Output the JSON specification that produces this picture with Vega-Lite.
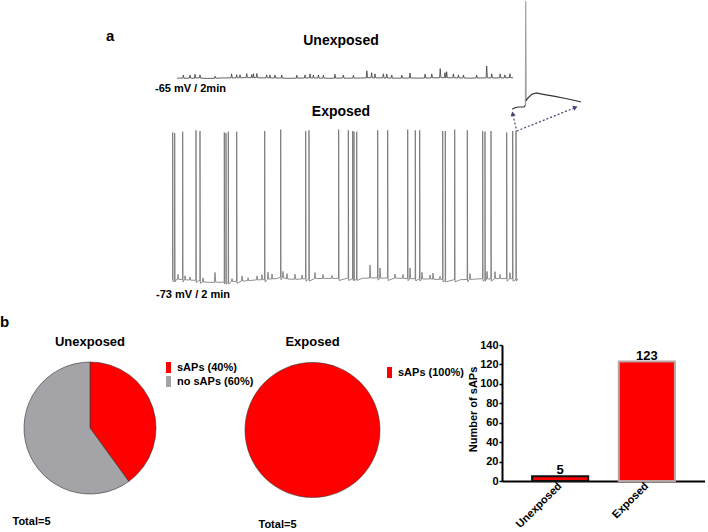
{
  "$schema": "https://vega.github.io/schema/vega-lite/v6.json",
  "padding": 0,
  "background": "white",
  "config": {
    "view": {"stroke": null},
    "font": "Liberation Sans",
    "title": {"fontWeight": "bold", "color": "black"},
    "axis": {"labelColor": "black", "titleColor": "black"}
  },
  "datasets": {
    "unexp": [
      {"t":0,"v":-65.1},
      {"t":2.05,"v":-65.1},{"t":2.25,"v":-63.0},{"t":2.5,"v":-65.2},
      {"t":4.44,"v":-65.0},{"t":4.64,"v":-62.9},{"t":4.89,"v":-65.1},
      {"t":6.23,"v":-65.2},{"t":6.43,"v":-62.4},{"t":6.68,"v":-65.0},
      {"t":8.01,"v":-64.9},{"t":8.21,"v":-62.8},{"t":8.46,"v":-65.1},
      {"t":11,"v":-65.3},
      {"t":13.37,"v":-65.2},{"t":13.57,"v":-63.8},{"t":13.82,"v":-65.1},
      {"t":16,"v":-65.0},
      {"t":19.3,"v":-64.9},{"t":19.5,"v":-62.1},{"t":19.75,"v":-65.0},
      {"t":21.1,"v":-64.8},{"t":21.3,"v":-62.7},{"t":21.55,"v":-64.9},
      {"t":22.3,"v":-64.8},{"t":22.5,"v":-62.7},{"t":22.75,"v":-64.9},
      {"t":24.7,"v":-64.7},{"t":24.9,"v":-61.9},{"t":25.15,"v":-64.8},
      {"t":26.5,"v":-64.7},{"t":26.7,"v":-62.6},{"t":26.95,"v":-64.8},
      {"t":27.15,"v":-64.8},{"t":27.3,"v":-62.0},{"t":27.55,"v":-64.8},
      {"t":28.3,"v":-64.7},{"t":28.5,"v":-61.9},{"t":28.75,"v":-64.8},
      {"t":30.5,"v":-64.9},
      {"t":31.8,"v":-64.9},{"t":32.0,"v":-62.8},{"t":32.25,"v":-64.9},
      {"t":33.0,"v":-64.9},{"t":33.2,"v":-62.8},{"t":33.45,"v":-65.0},
      {"t":34.8,"v":-65.0},{"t":35.0,"v":-62.9},{"t":35.25,"v":-65.0},
      {"t":37.2,"v":-65.0},{"t":37.4,"v":-62.9},{"t":37.65,"v":-65.1},
      {"t":40,"v":-65.2},
      {"t":42.6,"v":-65.1},{"t":42.8,"v":-63.0},{"t":43.05,"v":-65.1},
      {"t":45.5,"v":-65.0},{"t":45.7,"v":-62.9},{"t":45.95,"v":-65.0},
      {"t":47.3,"v":-64.9},{"t":47.5,"v":-62.1},{"t":47.75,"v":-65.0},
      {"t":48.5,"v":-65.0},{"t":48.7,"v":-62.9},{"t":48.95,"v":-65.0},
      {"t":50.3,"v":-65.0},{"t":50.5,"v":-62.9},{"t":50.75,"v":-65.1},
      {"t":52.1,"v":-65.1},{"t":52.3,"v":-63.0},{"t":52.55,"v":-65.1},
      {"t":54.5,"v":-65.2},
      {"t":56.2,"v":-65.1},{"t":56.4,"v":-62.3},{"t":56.65,"v":-65.1},
      {"t":59.2,"v":-65.0},{"t":59.4,"v":-62.9},{"t":59.65,"v":-65.1},
      {"t":62.8,"v":-65.1},{"t":63.0,"v":-63.0},{"t":63.25,"v":-65.1},
      {"t":65.5,"v":-65.0},
      {"t":67.6,"v":-64.9},{"t":67.8,"v":-60.0},{"t":68.05,"v":-64.9},
      {"t":69.3,"v":-64.8},{"t":69.5,"v":-61.3},{"t":69.75,"v":-64.9},
      {"t":70.5,"v":-64.9},{"t":70.7,"v":-62.1},{"t":70.95,"v":-64.9},
      {"t":73.5,"v":-64.9},{"t":73.7,"v":-62.1},{"t":73.95,"v":-65.0},
      {"t":74.7,"v":-65.0},{"t":74.9,"v":-62.2},{"t":75.15,"v":-65.0},
      {"t":76.5,"v":-65.0},{"t":76.7,"v":-62.9},{"t":76.95,"v":-65.1},
      {"t":78.5,"v":-65.1},
      {"t":80.1,"v":-65.1},{"t":80.3,"v":-63.0},{"t":80.55,"v":-65.1},
      {"t":83.0,"v":-65.0},{"t":83.2,"v":-61.5},{"t":83.45,"v":-65.0},
      {"t":86,"v":-65.1},
      {"t":88.4,"v":-65.0},{"t":88.6,"v":-62.2},{"t":88.85,"v":-65.0},
      {"t":90.8,"v":-64.9},{"t":91.0,"v":-62.1},{"t":91.25,"v":-64.9},
      {"t":93.8,"v":-64.8},{"t":94.0,"v":-58.5},{"t":94.25,"v":-64.7},
      {"t":95.5,"v":-64.8},{"t":95.7,"v":-61.3},{"t":95.95,"v":-64.8},
      {"t":96.1,"v":-64.8},{"t":96.3,"v":-60.6},{"t":96.55,"v":-64.8},
      {"t":98.5,"v":-64.9},{"t":98.7,"v":-62.1},{"t":98.95,"v":-64.9},
      {"t":100.3,"v":-64.9},{"t":100.5,"v":-62.8},{"t":100.75,"v":-65.0},
      {"t":102.1,"v":-65.0},{"t":102.3,"v":-62.9},{"t":102.55,"v":-65.0},
      {"t":104.5,"v":-65.1},
      {"t":106.8,"v":-65.0},{"t":107.0,"v":-62.9},{"t":107.25,"v":-65.0},
      {"t":110.4,"v":-64.9},{"t":110.6,"v":-56.6},{"t":110.85,"v":-64.9},
      {"t":112.2,"v":-64.9},{"t":112.4,"v":-62.1},{"t":112.65,"v":-65.0},
      {"t":115.2,"v":-64.9},{"t":115.4,"v":-62.1},{"t":115.65,"v":-64.9},
      {"t":116.9,"v":-64.9},{"t":117.1,"v":-62.8},{"t":117.35,"v":-64.9},
      {"t":118.7,"v":-64.8},{"t":118.9,"v":-62.0},{"t":119.15,"v":-64.8},
      {"t":120,"v":-64.8}
    ],
    "exp": [
      {"t":0,"v":-73.2},
      {"t":0.19,"v":-73.2},{"t":0.24,"v":29},{"t":0.36,"v":-75},
      {"t":0.89,"v":-74},{"t":0.94,"v":28.5},{"t":1.06,"v":-75},
      {"t":1.5,"v":-73.4},
      {"t":1.9,"v":-73.2},{"t":2.08,"v":-69.7},{"t":2.33,"v":-73.3},
      {"t":3.66,"v":-73.3},{"t":3.71,"v":29.5},{"t":3.83,"v":-75},
      {"t":4.35,"v":-73.5},{"t":4.51,"v":-70.7},{"t":4.76,"v":-73.6},
      {"t":6.05,"v":-73.7},{"t":6.24,"v":-71.6},{"t":6.49,"v":-73.8},
      {"t":7.5,"v":-73.9},
      {"t":8.27,"v":-73.9},{"t":8.32,"v":30.5},{"t":8.44,"v":-75.5},
      {"t":9.2,"v":-74.2},
      {"t":9.66,"v":-74.3},{"t":9.71,"v":30},{"t":9.83,"v":-76},
      {"t":10.55,"v":-75},{"t":10.75,"v":-72.2},{"t":11.0,"v":-75.1},
      {"t":13,"v":-75.3},
      {"t":14.7,"v":-75.4},{"t":14.91,"v":-68.4},{"t":15.16,"v":-75.2},
      {"t":17,"v":-75.3},
      {"t":18.09,"v":-75.2},{"t":18.14,"v":29},{"t":18.26,"v":-76.5},
      {"t":18.68,"v":-75.5},{"t":18.73,"v":28.5},{"t":18.85,"v":-76.5},
      {"t":19.48,"v":-75.3},{"t":19.53,"v":29.5},{"t":19.65,"v":-76.5},
      {"t":20.6,"v":-74.8},{"t":20.81,"v":-72.7},{"t":21.06,"v":-74.8},
      {"t":22.39,"v":-74.6},{"t":22.44,"v":29.5},{"t":22.56,"v":-76},
      {"t":24.1,"v":-74.4},{"t":24.28,"v":-70.9},{"t":24.53,"v":-74.4},
      {"t":26.2,"v":-74.2},{"t":26.36,"v":-72.1},{"t":26.61,"v":-74.1},
      {"t":29.3,"v":-73.6},{"t":29.48,"v":-70.8},{"t":29.73,"v":-73.6},
      {"t":31.0,"v":-73.5},{"t":31.21,"v":-70},{"t":31.46,"v":-73.5},
      {"t":32.1,"v":-73.4},{"t":32.15,"v":30},{"t":32.27,"v":-75},
      {"t":33.1,"v":-73.2},{"t":33.29,"v":-68.3},{"t":33.54,"v":-73.1},
      {"t":34.5,"v":-73.0},{"t":34.68,"v":-69.5},{"t":34.93,"v":-73},
      {"t":36.5,"v":-72.6},
      {"t":37.65,"v":-71.8},{"t":37.7,"v":31},{"t":37.82,"v":-73.5},
      {"t":38.3,"v":-71.9},{"t":38.49,"v":-67.7},{"t":38.74,"v":-72.3},
      {"t":39.7,"v":-72.8},{"t":39.88,"v":-69.3},{"t":40.13,"v":-73},
      {"t":42.5,"v":-73.2},{"t":42.66,"v":-69.7},{"t":42.91,"v":-73.2},
      {"t":44.9,"v":-73},{"t":45.09,"v":-70.2},{"t":45.34,"v":-73},
      {"t":46.32,"v":-72.8},{"t":46.37,"v":30},{"t":46.49,"v":-74.5},
      {"t":47.46,"v":-73},{"t":47.51,"v":30.5},{"t":47.63,"v":-74.5},
      {"t":49.4,"v":-72.7},{"t":49.6,"v":-68.5},{"t":49.85,"v":-72.7},
      {"t":52.2,"v":-72.6},{"t":52.37,"v":-69.8},{"t":52.62,"v":-72.6},
      {"t":55.3,"v":-72.6},{"t":55.49,"v":-70.5},{"t":55.74,"v":-72.6},
      {"t":57.76,"v":-72.5},{"t":57.81,"v":31},{"t":57.93,"v":-74},
      {"t":61.1,"v":-72.3},{"t":61.15,"v":30.5},{"t":61.27,"v":-74},
      {"t":62.62,"v":-72.8},{"t":62.67,"v":30},{"t":62.79,"v":-74},
      {"t":63.07,"v":-73.5},{"t":63.12,"v":29.5},{"t":63.24,"v":-74},
      {"t":64.01,"v":-73.2},{"t":64.06,"v":29.5},{"t":64.18,"v":-74},
      {"t":66,"v":-72.5},
      {"t":68.5,"v":-72.3},{"t":68.67,"v":-63.3},{"t":68.92,"v":-72.3},
      {"t":71.29,"v":-72.2},{"t":71.34,"v":30.5},{"t":71.46,"v":-73.8},
      {"t":71.95,"v":-72.8},{"t":72.13,"v":-65.3},{"t":72.38,"v":-72.4},
      {"t":74.76,"v":-72.3},{"t":74.81,"v":30.5},{"t":74.93,"v":-74},
      {"t":77.15,"v":-72.4},{"t":77.34,"v":-69.6},{"t":77.59,"v":-72.4},
      {"t":79.9,"v":-72.6},{"t":80.11,"v":-69.8},{"t":80.36,"v":-72.6},
      {"t":81.7,"v":-72.7},{"t":81.75,"v":31},{"t":81.87,"v":-74.2},
      {"t":82.35,"v":-73},{"t":82.54,"v":-65.3},{"t":82.79,"v":-72.8},
      {"t":84.33,"v":-72.8},{"t":84.38,"v":30.5},{"t":84.5,"v":-74.2},
      {"t":85.86,"v":-73},{"t":85.91,"v":30.5},{"t":86.03,"v":-74.5},
      {"t":86.5,"v":-73.2},{"t":86.7,"v":-68.3},{"t":86.95,"v":-73},
      {"t":89.3,"v":-73},{"t":89.47,"v":-70.2},{"t":89.72,"v":-73},
      {"t":90.35,"v":-73.1},{"t":90.51,"v":-68.9},{"t":90.76,"v":-73.2},
      {"t":92.75,"v":-73.3},{"t":92.94,"v":-71.2},{"t":93.19,"v":-73.3},
      {"t":93.84,"v":-73.3},{"t":93.89,"v":30},{"t":94.01,"v":-75},
      {"t":94.74,"v":-74},{"t":94.79,"v":30},{"t":94.91,"v":-75},
      {"t":98.0,"v":-73.4},{"t":98.05,"v":31},{"t":98.17,"v":-75},
      {"t":100,"v":-73.5},
      {"t":102.37,"v":-73.3},{"t":102.42,"v":30.5},{"t":102.54,"v":-75},
      {"t":103.15,"v":-73.4},{"t":103.35,"v":-69.2},{"t":103.6,"v":-73.3},
      {"t":105.5,"v":-73},
      {"t":107.71,"v":-72.8},{"t":107.76,"v":30},{"t":107.88,"v":-74.5},
      {"t":108.51,"v":-73.5},{"t":108.56,"v":29.5},{"t":108.68,"v":-74.5},
      {"t":109.05,"v":-73.2},{"t":109.24,"v":-67.7},{"t":109.49,"v":-73},
      {"t":110.59,"v":-72.9},{"t":110.64,"v":30},{"t":110.76,"v":-74.5},
      {"t":111.85,"v":-72.8},{"t":112.02,"v":-67.9},{"t":112.27,"v":-72.8},
      {"t":113.55,"v":-72.7},{"t":113.75,"v":-69.9},{"t":114.0,"v":-72.7},
      {"t":116.03,"v":-72.7},{"t":116.08,"v":29},{"t":116.2,"v":-74.5},
      {"t":117.05,"v":-73},{"t":117.22,"v":-68.6},{"t":117.47,"v":-72.9},
      {"t":118.11,"v":-72.8},{"t":118.16,"v":30},{"t":118.28,"v":-74.5},
      {"t":119.26,"v":-73.3},{"t":119.31,"v":30},{"t":119.43,"v":-74.5},
      {"t":120,"v":-72.8}
    ],
    "inset": [
      {"seg":"pre","t":0.2,"v":-73.3},{"seg":"pre","t":2.1,"v":-71.8},{"seg":"pre","t":4.5,"v":-71.1},{"seg":"pre","t":8.6,"v":-71.1},{"seg":"pre","t":9.6,"v":-69.2},
      {"seg":"spike","t":9.6,"v":-69.2},{"seg":"spike","t":9.8,"v":29.5},{"seg":"spike","t":10.1,"v":-65.4},
      {"seg":"post","t":10.1,"v":-65.4},{"seg":"post","t":10.7,"v":-63.5},{"seg":"post","t":14.1,"v":-59},{"seg":"post","t":17.1,"v":-57.7},{"seg":"post","t":22.4,"v":-59},{"seg":"post","t":30.7,"v":-61},{"seg":"post","t":39.1,"v":-63.2},{"seg":"post","t":45,"v":-64.9},{"seg":"post","t":49.3,"v":-66.3}
    ],
    "arrows": [
      {"arrow":"a1","t":3.4,"v":-94},{"arrow":"a1","t":0.6,"v":-78.5},
      {"arrow":"a2","t":3.4,"v":-94},{"arrow":"a2","t":44.5,"v":-72}
    ],
    "heads": [
      {"arrow":"a1","t":0.5,"v":-77.5},
      {"arrow":"a2","t":45.3,"v":-71.5}
    ],
    "pies": [
      {"grp":"Unexposed","cat":"sAPs (40%)","pct":40},
      {"grp":"Unexposed","cat":"no sAPs (60%)","pct":60},
      {"grp":"Exposed","cat":"sAPs (100%)","pct":100}
    ],
    "bars": [
      {"grp":"Unexposed","n":5},
      {"grp":"Exposed","n":123}
    ]
  },
  "bounds": "flush",
  "spacing": 44,
  "vconcat": [
    {
      "width": 600,
      "height": 300,
      "resolve": {"scale": {"x": "independent", "y": "independent"}},
      "layer": [
        {
          "layer": [
            {
              "data": {"name": "unexp"},
              "mark": {"type": "line", "color": "#3a3a3a", "strokeWidth": 0.8, "strokeJoin": "round"},
              "encoding": {
                "x": {"field": "t", "type": "quantitative", "scale": {"domain": [-63.214, 151.07], "nice": false, "zero": false}, "axis": null},
                "y": {"field": "v", "type": "quantitative", "scale": {"domain": [-220.2, -11.4], "nice": false, "zero": false}, "axis": null}
              }
            },
            {
              "data": {"values": [{}]},
              "mark": {"type": "text", "text": "Unexposed", "fontSize": 14, "fontWeight": "bold", "align": "center", "baseline": "middle", "color": "black"},
              "encoding": {"x": {"datum": 58.57, "type": "quantitative"}, "y": {"datum": -39.25, "type": "quantitative"}}
            },
            {
              "data": {"values": [{}]},
              "mark": {"type": "text", "text": "-65 mV / 2min", "fontSize": 11, "fontWeight": "bold", "align": "left", "baseline": "middle", "color": "black"},
              "encoding": {"x": {"datum": -7.86, "type": "quantitative"}, "y": {"datum": -72.66, "type": "quantitative"}}
            },
            {
              "data": {"values": [{}]},
              "mark": {"type": "text", "text": "a", "fontSize": 15, "fontWeight": "bold", "align": "left", "baseline": "middle", "color": "black"},
              "encoding": {"x": {"datum": -25.36, "type": "quantitative"}, "y": {"datum": -35.8, "type": "quantitative"}}
            }
          ]
        },
        {
          "layer": [
            {
              "data": {"name": "exp"},
              "mark": {"type": "line", "color": "#6a6a6a", "strokeWidth": 0.75, "strokeJoin": "round"},
              "encoding": {
                "x": {"field": "t", "type": "quantitative", "scale": {"domain": [-59.654, 148.44], "nice": false, "zero": false}, "axis": null},
                "y": {"field": "v", "type": "quantitative", "scale": {"domain": [-88.31, 120.47], "nice": false, "zero": false}, "axis": null}
              }
            },
            {
              "data": {"values": [{}]},
              "mark": {"type": "text", "text": "Exposed", "fontSize": 14, "fontWeight": "bold", "align": "center", "baseline": "middle", "color": "black"},
              "encoding": {"x": {"datum": 58.61, "type": "quantitative"}, "y": {"datum": 43.2, "type": "quantitative"}}
            },
            {
              "data": {"values": [{}]},
              "mark": {"type": "text", "text": "-73 mV / 2 min", "fontSize": 11, "fontWeight": "bold", "align": "left", "baseline": "middle", "color": "black"},
              "encoding": {"x": {"datum": -5.55, "type": "quantitative"}, "y": {"datum": -84.13, "type": "quantitative"}}
            }
          ]
        },
        {
          "layer": [
            {
              "data": {"name": "inset"},
              "mark": {"type": "line", "strokeWidth": 1.2, "strokeJoin": "round"},
              "encoding": {
                "x": {"field": "t", "type": "quantitative", "scale": {"domain": [-365.71, 62.86], "nice": false, "zero": false}, "axis": null},
                "y": {"field": "v", "type": "quantitative", "scale": {"domain": [-256.1, 30], "nice": false, "zero": false}, "axis": null},
                "color": {"field": "seg", "type": "nominal", "scale": {"domain": ["pre", "spike", "post"], "range": ["#333333", "#a0a0a0", "#333333"]}, "legend": null}
              }
            },
            {
              "data": {"name": "arrows"},
              "mark": {"type": "line", "color": "#45457a", "strokeWidth": 1.2, "strokeDash": [2, 2]},
              "encoding": {
                "x": {"field": "t", "type": "quantitative", "scale": {"domain": [-365.71, 62.86], "nice": false, "zero": false}, "axis": null},
                "y": {"field": "v", "type": "quantitative", "scale": {"domain": [-256.1, 30], "nice": false, "zero": false}, "axis": null},
                "detail": {"field": "arrow"}
              }
            },
            {
              "data": {"name": "heads"},
              "transform": [{"filter": "datum.arrow === 'a1'"}],
              "mark": {"type": "point", "shape": "triangle-up", "filled": true, "color": "#45457a", "size": 28, "angle": -12, "opacity": 1},
              "encoding": {
                "x": {"field": "t", "type": "quantitative", "axis": null},
                "y": {"field": "v", "type": "quantitative", "axis": null}
              }
            },
            {
              "data": {"name": "heads"},
              "transform": [{"filter": "datum.arrow === 'a2'"}],
              "mark": {"type": "point", "shape": "triangle-up", "filled": true, "color": "#45457a", "size": 28, "angle": 68, "opacity": 1},
              "encoding": {
                "x": {"field": "t", "type": "quantitative", "axis": null},
                "y": {"field": "v", "type": "quantitative", "axis": null}
              }
            }
          ]
        }
      ]
    },
    {
      "bounds": "flush",
      "spacing": 10,
      "title": {"text": "b", "anchor": "start", "fontSize": 15, "fontWeight": "bold", "color": "black", "offset": 6},
      "resolve": {"scale": {"color": "independent"}, "legend": {"color": "independent"}},
      "hconcat": [
        {
          "width": 180,
          "height": 166,
          "title": {"text": "Unexposed", "fontSize": 13, "dy": 8},
          "data": {"name": "pies"},
          "transform": [{"filter": "datum.grp === 'Unexposed'"}],
          "mark": {"type": "arc", "radius": 66, "stroke": "#333333", "strokeWidth": 0.6},
          "encoding": {
            "theta": {"field": "pct", "type": "quantitative", "stack": true},
            "order": {"field": "pct", "type": "quantitative", "sort": "ascending"},
            "color": {
              "field": "cat", "type": "nominal",
              "scale": {"domain": ["sAPs (40%)", "no sAPs (60%)"], "range": ["#ff0000", "#a4a4a8"]},
              "legend": {"orient": "none", "legendX": 163, "legendY": 17, "title": null, "symbolType": "M-0.45,-1H0.45V1H-0.45Z", "symbolSize": 121, "symbolStrokeWidth": 0, "labelFontSize": 11, "labelFontWeight": "bold", "labelColor": "black", "labelOffset": 3, "rowPadding": 2}
            },
            "x": {"datum": 0, "type": "quantitative", "scale": {"domain": [-1, 1], "nice": false, "zero": false},
              "axis": {"title": "Total=5", "labels": false, "ticks": false, "domain": false, "grid": false, "titleX": 12, "titleY": 10, "titleAlign": "left", "titleBaseline": "middle", "titleFontSize": 11, "titleFontWeight": "bold", "titleColor": "black"}}
          }
        },
        {
          "width": 302,
          "height": 170,
          "title": {"text": "Exposed", "fontSize": 13, "dy": 8, "dx": -28.5},
          "data": {"name": "pies"},
          "transform": [{"filter": "datum.grp === 'Exposed'"}],
          "mark": {"type": "arc", "radius": 67.5, "stroke": "#333333", "strokeWidth": 0.6},
          "encoding": {
            "theta": {"field": "pct", "type": "quantitative", "stack": true},
            "color": {
              "field": "cat", "type": "nominal",
              "scale": {"domain": ["sAPs (100%)"], "range": ["#ff0000"]},
              "legend": {"orient": "none", "legendX": 194, "legendY": 22, "title": null, "symbolType": "M-0.45,-1H0.45V1H-0.45Z", "symbolSize": 121, "symbolStrokeWidth": 0, "labelFontSize": 11, "labelFontWeight": "bold", "labelColor": "black", "labelOffset": 3}
            },
            "x": {"datum": 0, "type": "quantitative", "scale": {"domain": [-0.4056, 0.5944], "nice": false, "zero": false},
              "axis": {"title": "Total=5", "labels": false, "ticks": false, "domain": false, "grid": false, "titleX": 68, "titleY": 9, "titleAlign": "left", "titleBaseline": "middle", "titleFontSize": 11, "titleFontWeight": "bold", "titleColor": "black"}}
          }
        },
        {
          "width": 203,
          "height": 136,
          "data": {"name": "bars"},
          "encoding": {
            "x": {"field": "grp", "type": "nominal", "sort": ["Unexposed", "Exposed"],
              "scale": {"paddingInner": 0.353, "paddingOuter": 0.347},
              "axis": {"title": null, "labelAngle": -45, "labelAlign": "right", "labelBaseline": "middle", "domainWidth": 2, "domainColor": "black", "ticks": false, "labelFontSize": 11, "labelFontWeight": "bold", "labelColor": "black", "labelPadding": 3}},
            "y": {"field": "n", "type": "quantitative", "scale": {"domain": [0, 140], "nice": false},
              "axis": {"title": "Number of sAPs", "values": [0, 20, 40, 60, 80, 100, 120, 140], "grid": false, "domainWidth": 2, "domainColor": "black", "tickColor": "black", "tickSize": 3, "tickWidth": 1.5, "labelFontSize": 11, "labelFontWeight": "bold", "labelColor": "black", "labelPadding": 1, "titleFontSize": 11, "titleFontWeight": "bold", "titleColor": "black", "titleX": -24, "titleY": 64}}
          },
          "layer": [
            {
              "mark": {"type": "bar", "strokeWidth": 2},
              "encoding": {
                "fill": {"value": "#ff0000"},
                "stroke": {"field": "grp", "type": "nominal", "scale": {"domain": ["Unexposed", "Exposed"], "range": ["#111111", "#b9a3a3"]}, "legend": null}
              }
            },
            {
              "mark": {"type": "text", "dy": -6, "fontSize": 13, "fontWeight": "bold", "color": "black", "baseline": "middle"},
              "encoding": {"text": {"field": "n", "type": "quantitative"}}
            }
          ]
        }
      ]
    }
  ]
}
